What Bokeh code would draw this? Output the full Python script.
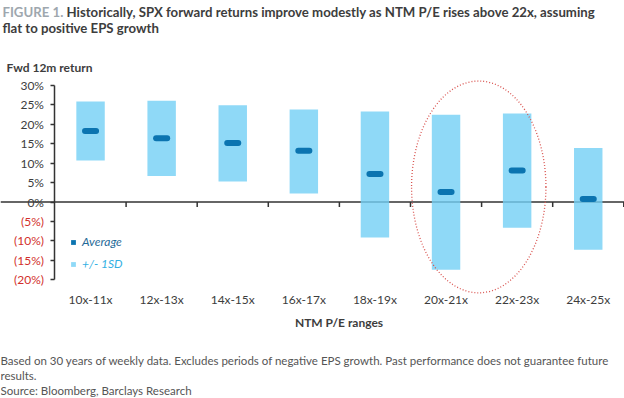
from bokeh.plotting import figure
from bokeh.models import (Range1d, FixedTicker, Span, Label, LinearAxis,
                          ColumnDataSource, Legend, LegendItem)
from bokeh.embed import file_html
from bokeh.resources import INLINE

# ---------------- data ----------------
categories = ["10x-11x", "12x-13x", "14x-15x", "16x-17x",
              "18x-19x", "20x-21x", "22x-23x", "24x-25x"]
avg_return = [18.3, 16.4, 15.2, 13.2, 7.2, 2.6, 8.1, 0.8]
sd_upper = [25.9, 26.1, 24.9, 23.8, 23.3, 22.5, 22.8, 13.9]
sd_lower = [10.7, 6.7, 5.3, 2.2, -9.1, -17.4, -6.6, -12.3]
y_tick_values = [-20, -15, -10, -5, 0, 5, 10, 15, 20, 25, 30]
y_tick_labels = ["(20%)", "(15%)", "(10%)", "(5%)", "0%", "5%",
                 "10%", "15%", "20%", "25%", "30%"]
highlighted = ["20x-21x", "22x-23x"]

title_prefix = "FIGURE 1."
title_line1 = "Historically, SPX forward returns improve modestly as NTM P/E rises above 22x, assuming"
title_line2 = "flat to positive EPS growth"
y_title = "Fwd 12m return"
x_title = "NTM P/E ranges"
footnotes = ["Based on 30 years of weekly data. Excludes periods of negative EPS growth. Past performance does not guarantee future",
             "results.",
             "Source: Bloomberg, Barclays Research"]

# ---------------- style ----------------
FONT = "Lato"
TXT = "#3d3d3d"
RED = "#d2302c"
BAR = "#73cff5"
AVG = "#0b74b0"
AX = "#333333"

n = len(categories)
x_pos = [i + 0.5 for i in range(n)]
src = ColumnDataSource(dict(x=x_pos, cat=categories, avg=avg_return,
                            top=sd_upper, bottom=sd_lower))

y_lo, y_hi = min(y_tick_values), max(y_tick_values)

# frame covers the whole canvas; axes are placed at fixed data locations
p = figure(width=624, height=398, title=None,
           x_range=Range1d(-0.7665, n + 0.01), y_range=Range1d(-50.55, 51.87),
           output_backend="svg", toolbar_location=None,
           x_axis_location=None, y_axis_location=None,
           min_border=0)
p.outline_line_color = None
p.grid.visible = False


def style_axis(ax, color):
    ax.major_label_text_font = FONT
    ax.major_label_text_font_size = "12px"
    ax.major_label_text_color = color
    ax.minor_tick_line_color = None


# y axis (positive labels, dark) at x = 0
ya = LinearAxis(fixed_location=0, bounds=(y_lo, y_hi),
                ticker=FixedTicker(ticks=[v for v in y_tick_values if v >= 0], minor_ticks=[]),
                major_label_overrides={v: l for v, l in zip(y_tick_values, y_tick_labels) if v >= 0})
style_axis(ya, TXT)
ya.axis_line_color = AX
ya.axis_line_width = 1.5
ya.major_tick_line_color = AX
ya.major_tick_line_width = 1.5
ya.major_tick_out = 4
ya.major_tick_in = 0
ya.major_label_standoff = 7
p.add_layout(ya, "left")

# y axis (negative labels, red)
yn = LinearAxis(fixed_location=0, bounds=(y_lo, y_hi),
                ticker=FixedTicker(ticks=[v for v in y_tick_values if v < 0], minor_ticks=[]),
                major_label_overrides={v: l for v, l in zip(y_tick_values, y_tick_labels) if v < 0})
style_axis(yn, RED)
yn.axis_line_color = None
yn.major_tick_line_color = AX
yn.major_tick_line_width = 1.5
yn.major_tick_out = 4
yn.major_tick_in = 0
yn.major_label_standoff = 7
p.add_layout(yn, "left")

# zero line (behind the translucent bars) and category boundary ticks
p.add_layout(Span(location=0, dimension="width", line_color=AX,
                  line_width=1.5, level="underlay"))
boundaries = list(range(1, n + 1))
p.segment(x0=boundaries, y0=0, x1=boundaries, y1=-1.3,
          line_color=AX, line_width=1.5)

# category labels axis
xc = LinearAxis(fixed_location=y_lo, bounds=(0, n),
                ticker=FixedTicker(ticks=x_pos, minor_ticks=[]),
                major_label_overrides={x: c for x, c in zip(x_pos, categories)},
                axis_label=x_title)
style_axis(xc, TXT)
xc.axis_line_color = None
xc.major_tick_line_color = None
xc.major_tick_out = 0
xc.major_tick_in = 0
xc.major_label_standoff = 12
xc.axis_label_standoff = 5
xc.axis_label_text_font = FONT
xc.axis_label_text_font_size = "12px"
xc.axis_label_text_font_style = "bold"
xc.axis_label_text_color = TXT
p.add_layout(xc, "below")

# bars and averages
r_bar = p.vbar(x="x", top="top", bottom="bottom", width=0.4, source=src,
               fill_color=BAR, fill_alpha=0.8, line_color=None)
r_avg = p.rect(x="x", y="avg", width=0.24, height=6, height_units="screen",
               source=src, fill_color=AVG, line_color=None, border_radius=3)

# highlight ellipse
hi_idx = [categories.index(c) for c in highlighted]
ell_x = sum(x_pos[i] for i in hi_idx) / len(hi_idx) - 0.04
p.ellipse(x=[ell_x], y=[3.9], width=[1.89], height=[54.5],
          fill_color=None, line_color="#d9534f", line_dash="1 2", line_width=1.3)


# legends
def make_legend(label, rend, color, loc):
    lg = Legend(items=[LegendItem(label=label, renderers=[rend])], location=loc,
                background_fill_alpha=0, border_line_color=None, padding=0,
                margin=0, spacing=0, glyph_width=6, glyph_height=6,
                label_height=14, label_width=10, label_standoff=6,
                label_text_font=FONT, label_text_font_size="12px",
                label_text_font_style="italic", label_text_color=color)
    p.add_layout(lg)


make_legend("Average", r_avg, "#1f6a98", (70, 149))
make_legend("+/- 1SD", r_bar, "#33b0e3", (70, 127))


def lab(text, x, y, size, color, style="normal"):
    p.add_layout(Label(x=x, y=y, x_units="screen", y_units="screen", text=text,
                       text_font=FONT, text_font_size=size, text_color=color,
                       text_font_style=style, text_align="left",
                       text_baseline="alphabetic"))


lab(title_prefix, 2, 387, "13.2px", "#9ea7ae", "bold")
lab(title_line1, 66, 387, "13.2px", TXT, "bold")
lab(title_line2, 2, 371, "13.2px", TXT, "bold")
lab(y_title, 6, 331, "12px", TXT, "bold")
for i, t in enumerate(footnotes):
    lab(t, 0, 38 - 15 * i, "11.5px", "#555555")

open("out.html", "w").write(file_html(p, INLINE))
